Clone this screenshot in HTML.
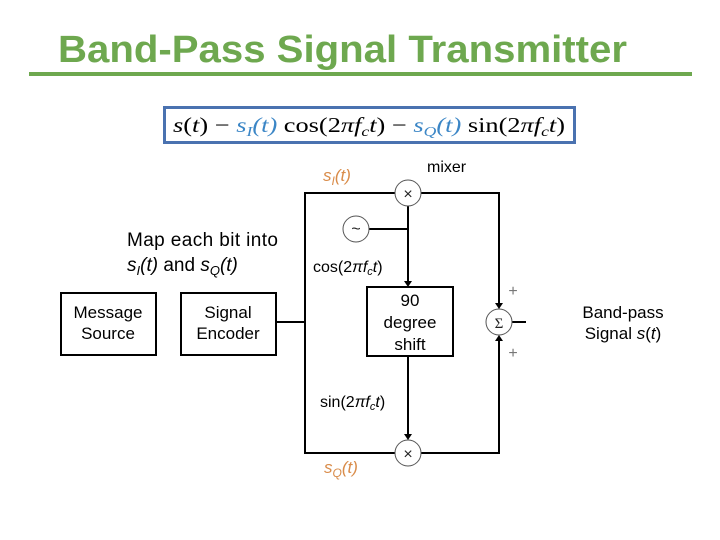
<!DOCTYPE html>
<html><head><style>body{margin:0;background:#fff}svg{display:block}</style></head><body>
<svg width="720" height="540" viewBox="0 0 720 540" xmlns="http://www.w3.org/2000/svg" font-family="Liberation Sans, Arial, sans-serif">
<text x="58" y="62" font-size="38" font-weight="bold" fill="#6ea84f" textLength="569" lengthAdjust="spacingAndGlyphs">Band-Pass Signal Transmitter</text>
<rect x="29" y="72" width="663" height="4" fill="#6ea84f"/>
<rect x="164.5" y="107.5" width="410" height="35" fill="#fff" stroke="#4a72b0" stroke-width="3"/>
<g font-family="Liberation Serif, serif" font-size="21">
<text x="173" y="132" textLength="392" lengthAdjust="spacingAndGlyphs"><tspan font-style="italic">s</tspan>(<tspan font-style="italic">t</tspan>) − <tspan fill="#3b86c6" font-style="italic">s<tspan font-size="14" dy="4">I</tspan><tspan dy="-4">(t)</tspan></tspan> cos(2<tspan font-style="italic">πf<tspan font-size="14" dy="4">c</tspan><tspan dy="-4">t</tspan></tspan>) − <tspan fill="#3b86c6" font-style="italic">s<tspan font-size="14" dy="4">Q</tspan><tspan dy="-4">(t)</tspan></tspan> sin(2<tspan font-style="italic">πf<tspan font-size="14" dy="4">c</tspan><tspan dy="-4">t</tspan></tspan>)</text>
</g>
<g stroke="#000" stroke-width="2" fill="none">
<rect x="61" y="293" width="95" height="62"/>
<rect x="181" y="293" width="95" height="62"/>
<rect x="367" y="287" width="86" height="69"/>
<line x1="276" y1="322" x2="305" y2="322"/>
<polyline points="395,193 305,193 305,453 395,453"/>
<polyline points="421,193 499,193 499,306"/>
<polyline points="421,453 499,453 499,338"/>
<line x1="369" y1="229" x2="408" y2="229"/>
<line x1="408" y1="206" x2="408" y2="283"/>
<line x1="408" y1="356" x2="408" y2="436"/>
<line x1="512" y1="322" x2="526" y2="322"/>
</g>
<g stroke="#555" stroke-width="1" fill="#fff">
<circle cx="408" cy="193" r="13"/><circle cx="408" cy="453" r="13"/>
<circle cx="356" cy="229" r="13"/><circle cx="499" cy="322" r="13"/>
</g>
<g fill="#000">
<polygon points="404,281 412,281 408,287"/>
<polygon points="404,434 412,434 408,440"/>
<polygon points="495,303 503,303 499,309"/>
<polygon points="495,341 503,341 499,335"/>
</g>
<g font-size="16" text-anchor="middle" fill="#222">
<text x="408" y="199">×</text><text x="408" y="459">×</text>
<text x="356" y="234">~</text>
<text x="499" y="328" font-family="Liberation Serif, serif" font-size="15">Σ</text>
<text x="513" y="296" fill="#777">+</text><text x="513" y="358" fill="#777">+</text>
</g>
<g font-size="17" fill="#000">
<text x="108" y="318" text-anchor="middle">Message</text><text x="108" y="339" text-anchor="middle">Source</text>
<text x="228" y="318" text-anchor="middle">Signal</text><text x="228" y="339" text-anchor="middle">Encoder</text>
<text x="410" y="306" text-anchor="middle">90</text><text x="410" y="328" text-anchor="middle">degree</text><text x="410" y="350" text-anchor="middle">shift</text>
<text x="623" y="318" text-anchor="middle">Band-pass</text><text x="623" y="339" text-anchor="middle">Signal <tspan font-style="italic">s</tspan>(<tspan font-style="italic">t</tspan>)</text>
<text x="427" y="172" font-size="16">mixer</text>
<text x="127" y="246" font-size="19" textLength="151">Map each bit into</text>
<text x="127" y="271" font-size="19"><tspan font-style="italic">s<tspan font-size="13" dy="4">I</tspan><tspan dy="-4">(t)</tspan></tspan> and <tspan font-style="italic">s<tspan font-size="13" dy="4">Q</tspan><tspan dy="-4">(t)</tspan></tspan></text>
<text x="313" y="272" font-size="16">cos(2<tspan font-style="italic">πf<tspan font-size="11" dy="3">c</tspan><tspan dy="-3">t</tspan></tspan>)</text>
<text x="320" y="407" font-size="16">sin(2<tspan font-style="italic">πf<tspan font-size="11" dy="3">c</tspan><tspan dy="-3">t</tspan></tspan>)</text>
</g>
<g font-size="17" fill="#d98c4a" font-style="italic">
<text x="323" y="181">s<tspan font-size="12" dy="4">I</tspan><tspan dy="-4">(t)</tspan></text>
<text x="324" y="473">s<tspan font-size="12" dy="4">Q</tspan><tspan dy="-4">(t)</tspan></text>
</g>
</svg>
</body></html>
